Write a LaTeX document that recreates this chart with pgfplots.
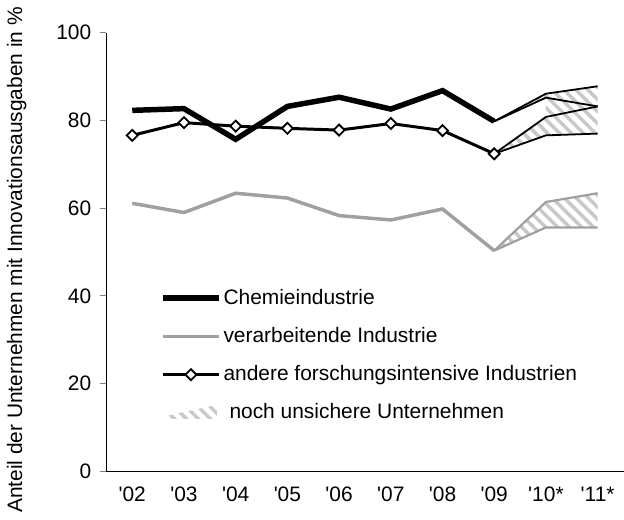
\documentclass[border=0pt]{standalone}
\usepackage{fontspec}
\setmainfont{Liberation Sans}
\usepackage{pgfplots}
\pgfplotsset{compat=1.18}
\usetikzlibrary{patterns.meta}
\definecolor{vgray}{RGB}{160,160,160}
\definecolor{hgray}{RGB}{200,200,200}
\tikzset{hatch/.style={draw=none,pattern={Lines[angle=-45,distance=8.5pt,line width=3.5pt]}, pattern color=hgray}}
\begin{document}
\fontsize{21}{25}\selectfont
\begin{tikzpicture}
\begin{axis}[
  scale only axis, width=519pt, height=440pt,
  xmin=-0.5, xmax=9.5, ymin=0, ymax=100,
  axis x line*=bottom, axis y line*=left,
  axis line style={line width=1pt,-},
  xtick={0,...,9},
  xticklabels={{\textquotesingle 02},{\textquotesingle 03},{\textquotesingle 04},{\textquotesingle 05},{\textquotesingle 06},{\textquotesingle 07},{\textquotesingle 08},{\textquotesingle 09},{\textquotesingle 10*},{\textquotesingle 11*}},
  xtick style={draw=none},
  xticklabel style={yshift=-3pt},
  ytick={0,20,40,60,80,100},
  ytick style={line width=1pt},
  tick align=outside, major tick length=6pt,
  yticklabel style={xshift=-2pt},
  /pgf/number format/assume math mode=true,
  tick label style={font=\fontsize{21}{25}\selectfont},
  ylabel={Anteil der Unternehmen mit Innovationsausgaben in \%},
  ylabel style={font=\fontsize{21}{25}\selectfont, at={(axis description cs:0,0.5)}, anchor=center, yshift=90pt, xshift=-8pt},
  legend style={draw=none, fill=none, at={(rel axis cs:0.098,0.425)}, anchor=north west,
    font=\fontsize{21}{25}\selectfont, row sep=16pt, nodes={inner xsep=2pt}},
  legend cell align=left,
  legend image code/.code={\draw[mark repeat=2,mark phase=2,#1] plot coordinates {(0pt,0pt) (28pt,0pt) (56pt,0pt)};},
]
% hatched uncertainty areas
\addplot[hatch, forget plot] coordinates {(7,79.8) (8,86.1) (9,87.8) (9,83.2) (8,85.2) (7,79.8)};
\addplot[hatch, forget plot] coordinates {(8,85.2) (9,83.2) (8,80.8) (8,85.2)};
\addplot[hatch, forget plot] coordinates {(7,72.4) (8,80.8) (9,83.2) (9,77.0) (8,76.6) (7,72.4)};
\addplot[hatch, forget plot] coordinates {(7,50.3) (8,61.4) (9,63.4) (9,55.6) (8,55.6) (7,50.3)};
% extension lines
\addplot[black, line width=1.8pt, forget plot] coordinates {(7,79.8) (8,86.1) (9,87.8)};
\addplot[black, line width=1.8pt, forget plot] coordinates {(7,79.8) (8,85.2) (9,83.2)};
\addplot[black, line width=1.8pt, forget plot] coordinates {(7,72.4) (8,80.8) (9,83.2)};
\addplot[black, line width=1.8pt, forget plot] coordinates {(7,72.4) (8,76.6) (9,77.0)};
\addplot[vgray, line width=2.2pt, forget plot] coordinates {(7,50.3) (8,61.4) (9,63.4)};
\addplot[vgray, line width=2.2pt, forget plot] coordinates {(7,50.3) (8,55.6) (9,55.6)};
% main series
\addplot[black, line width=5.5pt] coordinates {(0,82.3) (1,82.7) (2,75.7) (3,83.2) (4,85.3) (5,82.6) (6,86.8) (7,79.8)};
\addlegendentry{Chemieindustrie}
\addplot[vgray, line width=3.5pt] coordinates {(0,61.1) (1,59.0) (2,63.4) (3,62.3) (4,58.3) (5,57.3) (6,59.8) (7,50.3)};
\addlegendentry{verarbeitende Industrie}
\addplot[black, line width=3pt, mark=square*, mark size=3.9pt, mark options={rotate=45, fill=white, line width=1.8pt}] coordinates {(0,76.6) (1,79.5) (2,78.7) (3,78.2) (4,77.8) (5,79.3) (6,77.7) (7,72.4)};
\addlegendentry{andere forschungsintensive Industrien}
\addlegendimage{legend image code/.code={\fill[hatch] (4pt,-6pt) -- (54pt,-6pt) -- (54pt,8pt) -- (4pt,-3pt) -- cycle;}}
\addlegendentry{\hspace{6pt}noch unsichere Unternehmen}
\end{axis}
\end{tikzpicture}
\end{document}
